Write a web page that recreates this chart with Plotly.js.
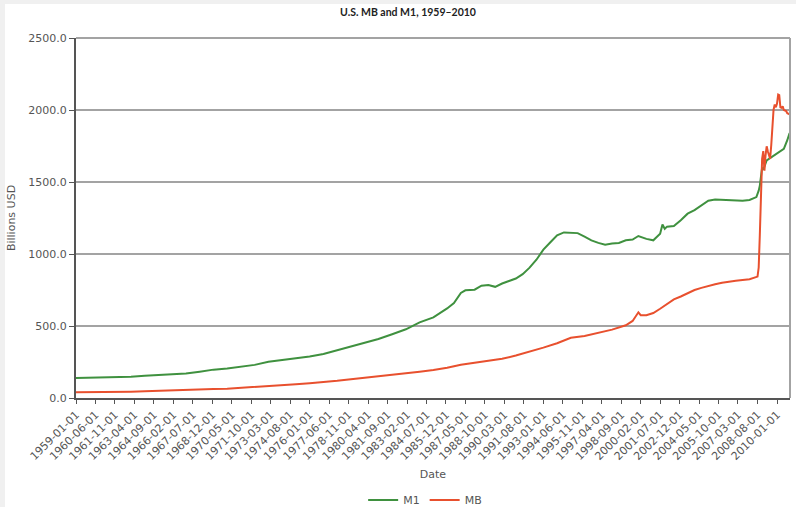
<!DOCTYPE html>
<html>
<head>
<meta charset="utf-8">
<script src="https://cdn.plot.ly/plotly-3.0.1.min.js"></script>
<style>
  html, body { margin: 0; padding: 0; background: #f0f0f0; width: 796px; height: 507px; overflow: hidden; }
  #chart { position: absolute; left: 5px; top: 4px; width: 791px; height: 503px; background: #ffffff; }
</style>
</head>
<body>
<div id="chart"></div>
<script>
// ---- data ----
const chartTitle = 'U.S. MB and M1, 1959–2010';
const seriesNames = ['M1', 'MB'];

const m1Dates = [
  '1959-01-01','1960-01-01','1961-01-01','1962-01-01','1963-01-01','1964-01-01','1965-01-01','1966-01-01',
  '1967-01-01','1968-01-01','1969-01-01','1970-01-01','1971-01-01','1972-01-01','1973-01-01','1974-01-01',
  '1975-01-01','1976-01-01','1977-01-01','1978-01-01','1979-01-01','1980-01-01','1981-01-01','1982-01-01',
  '1983-01-01','1984-01-01','1985-01-01','1986-01-01','1986-07-01','1987-01-01','1987-05-01','1988-01-01',
  '1988-07-01','1989-01-01','1989-07-01','1990-01-01','1990-07-01','1991-01-01','1991-07-01','1992-01-01',
  '1992-07-01','1993-01-01','1993-07-01','1994-01-01','1994-07-01','1995-01-01','1995-07-01','1996-01-01',
  '1996-07-01','1997-01-01','1997-07-01','1998-01-01','1998-07-01','1999-01-01','1999-07-01','1999-12-01',
  '2000-07-01','2001-01-01','2001-07-01','2001-09-01','2001-11-01','2002-01-01','2002-07-01','2003-01-01',
  '2003-07-01','2004-01-01','2004-07-01','2005-01-01','2005-07-01','2006-01-01','2006-07-01','2007-01-01',
  '2007-07-01','2008-01-01','2008-07-01','2008-09-01','2008-10-01','2008-12-01','2009-01-01','2009-04-01',
  '2009-07-01','2009-10-01','2010-01-01','2010-04-01','2010-07-01','2010-10-01','2010-12-01'
];
const m1Values = [
  139, 140.5, 141, 145, 148, 154, 160, 168,
  171, 183, 197, 205, 215, 230, 251, 263,
  274, 288, 306, 333, 358, 385, 410, 443,
  477, 525, 560, 622, 660, 730, 748, 752,
  780, 785, 772, 795, 810, 830, 860, 905,
  960, 1030, 1080, 1130, 1150, 1150, 1145, 1120,
  1095, 1077, 1065, 1073, 1077, 1095, 1100, 1125,
  1105, 1095, 1140, 1205, 1175, 1190, 1195, 1235,
  1280, 1305, 1335, 1370, 1378, 1376, 1372, 1370,
  1370, 1375, 1395, 1440, 1475, 1600, 1585, 1650,
  1665, 1680, 1695, 1715, 1730, 1790, 1840
];

const mbDates = [
  '1959-01-01','1960-01-01','1961-01-01','1962-01-01','1963-01-01','1964-01-01','1965-01-01','1966-01-01',
  '1967-01-01','1968-01-01','1969-01-01','1970-01-01','1971-01-01','1972-01-01','1973-01-01','1974-01-01',
  '1975-01-01','1976-01-01','1977-01-01','1978-01-01','1979-01-01','1980-01-01','1981-01-01','1982-01-01',
  '1983-01-01','1984-01-01','1985-01-01','1986-01-01','1987-01-01','1988-01-01','1989-01-01','1990-01-01',
  '1991-01-01','1992-01-01','1993-01-01','1994-01-01','1995-01-01','1996-01-01','1997-01-01','1998-01-01',
  '1999-01-01','1999-07-01','1999-12-01','2000-02-01','2000-07-01','2001-01-01','2001-07-01','2002-01-01',
  '2002-07-01','2003-01-01','2003-07-01','2004-01-01','2004-07-01','2005-01-01','2005-07-01','2006-01-01',
  '2006-07-01','2007-01-01','2007-07-01','2008-01-01','2008-08-01','2008-09-01','2008-10-01','2008-11-01',
  '2008-12-01','2009-01-01','2009-02-01','2009-03-01','2009-04-01','2009-05-01','2009-06-01','2009-07-01',
  '2009-08-01','2009-09-01','2009-10-01','2009-11-01','2009-12-01','2010-01-01','2010-02-01','2010-03-01',
  '2010-04-01','2010-05-01','2010-06-01','2010-07-01','2010-08-01','2010-09-01','2010-10-01','2010-11-01',
  '2010-12-01'
];
const mbValues = [
  40, 40, 41, 42, 44, 47, 49, 52,
  55, 58, 62, 65, 70, 75, 82, 89,
  95, 102, 109, 119, 130, 140, 150, 159,
  170, 183, 195, 210, 231, 245, 256, 272,
  295, 320, 350, 380, 418, 430, 450, 475,
  505, 535, 595, 575, 575, 590, 620, 655,
  685, 705, 730, 750, 765, 780, 790, 800,
  810, 815, 820, 825, 843, 906, 1132, 1432,
  1660, 1715, 1578, 1682, 1748, 1713, 1674, 1661,
  1757, 1903, 2002, 2038, 2019, 2045, 2107, 2103,
  2018, 2015, 2025, 2000, 1995, 1993, 1978, 1976,
  1970
];

const xTickLabels = [
  '1959-01-01','1960-06-01','1961-11-01','1963-04-01','1964-09-01','1966-02-01','1967-07-01','1968-12-01',
  '1970-05-01','1971-10-01','1973-03-01','1974-08-01','1976-01-01','1977-06-01','1978-11-01','1980-04-01',
  '1981-09-01','1983-02-01','1984-07-01','1985-12-01','1987-05-01','1988-10-01','1990-03-01','1991-08-01',
  '1993-01-01','1994-06-01','1995-11-01','1997-04-01','1998-09-01','2000-02-01','2001-07-01','2002-12-01',
  '2004-05-01','2005-10-01','2007-03-01','2008-08-01','2010-01-01'
];
const yTickValues = [0, 500, 1000, 1500, 2000, 2500];

// ---- chart ----
const green = '#3f913f';
const red = '#e8502e';
const labelFont = { family: 'DejaVu Sans', size: 11, color: '#555555' };

const traces = [
  { x: m1Dates, y: m1Values, name: seriesNames[0], type: 'scatter', mode: 'lines',
    line: { color: green, width: 2 } },
  { x: mbDates, y: mbValues, name: seriesNames[1], type: 'scatter', mode: 'lines',
    line: { color: red, width: 2 } }
];

const layout = {
  width: 791, height: 503,
  paper_bgcolor: '#ffffff', plot_bgcolor: '#ffffff',
  margin: { l: 71, r: 6, t: 34, b: 109, autoexpand: false },
  title: {
    text: '<b>' + chartTitle + '</b>',
    font: { family: 'Lato', size: 10.5, color: '#222222' },
    x: 0.5095, xanchor: 'center', y: 0.984, yanchor: 'middle'
  },
  xaxis: {
    type: 'date',
    range: ['1959-01-01', '2010-12-12'],
    tickmode: 'array', tickvals: xTickLabels, ticktext: xTickLabels,
    tickangle: -45, tickfont: labelFont,
    ticks: 'outside', ticklen: 4, tickwidth: 1, tickcolor: '#555555',
    showgrid: false, zeroline: false,
    showline: true, linecolor: '#555555', linewidth: 2,
    title: { text: 'Date', font: labelFont, standoff: 8 },
    automargin: false
  },
  yaxis: {
    range: [0, 2500],
    tickmode: 'array', tickvals: yTickValues, tickformat: '.1f',
    tickfont: labelFont,
    ticks: 'outside', ticklen: 5, tickwidth: 1, tickcolor: '#555555',
    showgrid: true, gridcolor: '#a3a3a3', gridwidth: 1.5,
    zeroline: false,
    showline: true, linecolor: '#555555', linewidth: 2,
    title: { text: 'Billions USD', font: labelFont, standoff: 10 },
    automargin: false
  },
  shapes: [
    { type: 'line', xref: 'paper', yref: 'paper', x0: 1, x1: 1, y0: 0, y1: 1,
      line: { color: '#a3a3a3', width: 2 } },
    { type: 'line', xref: 'paper', yref: 'paper', x0: 0, x1: 1, y0: 1, y1: 1,
      line: { color: '#a3a3a3', width: 2 } }
  ],
  showlegend: true,
  legend: {
    orientation: 'h', x: 0.489, xanchor: 'center', y: -0.283, yanchor: 'middle',
    font: { family: 'DejaVu Sans', size: 11, color: '#555555' },
    bgcolor: 'rgba(0,0,0,0)', itemwidth: 30, tracegroupgap: 0
  }
};

Plotly.newPlot('chart', traces, layout, { displayModeBar: false, staticPlot: true });
</script>
</body>
</html>
